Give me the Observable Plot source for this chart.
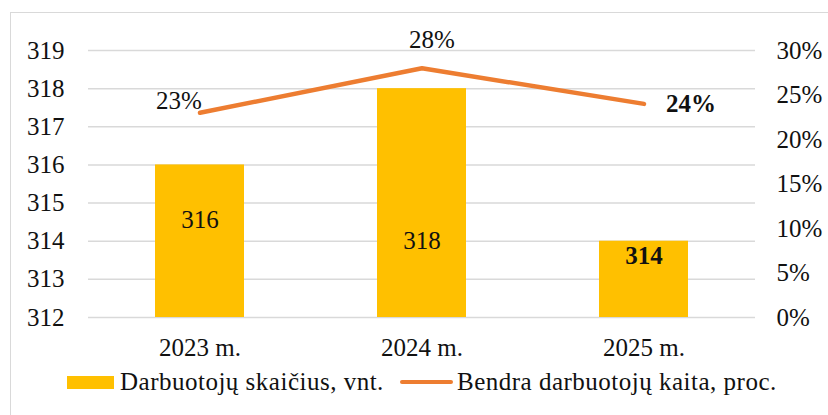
<!DOCTYPE html>
<html>
<head>
<meta charset="utf-8">
<script src="https://cdn.jsdelivr.net/npm/d3@7"></script>
<script src="https://cdn.jsdelivr.net/npm/@observablehq/plot@0.6"></script>
<style>
  html, body { margin: 0; padding: 0; background: #fff; }
  body { width: 828px; height: 415px; overflow: hidden; position: relative; color: #111; }
  body, body * { font-family: 'Liberation Serif', serif !important; }
  #frame { position: absolute; left: 10px; top: 12px; width: 830px; height: 440px; border: 1.5px solid #d9d9d9; box-sizing: border-box; pointer-events: none; }
  #chart svg { display: block; overflow: visible; }
  #legend { position: relative; height: 50px; font-size: 25px; letter-spacing: 0.5px; }
  .item { position: absolute; top: 3px; display: flex; align-items: center; white-space: nowrap; }
  .sw-bar { width: 47px; height: 13px; background: #FFC000; margin-right: 6px; }
  .sw-line { width: 53px; height: 4px; background: #ED7D31; border-radius: 2px; margin-right: 4px; }
</style>
</head>
<body>
<div id="chart"></div>
<div id="legend">
  <div class="item" style="left:67px"><span class="sw-bar"></span><span>Darbuotojų skaičius, vnt.</span></div>
  <div class="item" style="left:400px"><span class="sw-line"></span><span>Bendra darbuotojų kaita, proc.</span></div>
</div>
<div id="frame"></div>
<script>
const years = ["2023 m.", "2024 m.", "2025 m."];
const employees = [316, 318, 314];
const changePct = [23, 28, 24];
const leftTicks = [312, 313, 314, 315, 316, 317, 318, 319];
const rightTicks = [0, 5, 10, 15, 20, 25, 30];

const yMin = 312, yMax = 319, pMax = 30;
const toLeft = p => yMin + p * (yMax - yMin) / pMax;
const data = years.map((year, i) => ({year, employees: employees[i], pct: changePct[i], i}));

const FS = 25;
const FF = "Liberation Serif";
const bold = i => i === 2 ? "bold" : "normal";

function barLabel(i, dy) {
  return Plot.text(data.filter(d => d.i === i), {
    x: "year", y: "employees", text: d => String(d.employees),
    dy, fontSize: FS, fontFamily: FF, fontWeight: bold(i), fill: "#111"
  });
}
function lineLabel(i, dx, dy, anchor) {
  return Plot.text(data.filter(d => d.i === i), {
    x: "year", y: d => toLeft(d.pct), text: d => d.pct + "%",
    dx, dy, textAnchor: anchor, fontSize: FS, fontFamily: FF, fontWeight: bold(i), fill: "#111"
  });
}

const chart = Plot.plot({
  width: 828,
  height: 365,
  marginLeft: 88,
  marginRight: 73,
  marginTop: 50,
  marginBottom: 48,
  style: {fontFamily: FF, fontSize: FS + "px", color: "#111", background: "transparent", overflow: "visible"},
  x: {type: "band", domain: years, paddingInner: 0.6, paddingOuter: 0.3},
  y: {domain: [yMin, yMax]},
  marks: [
    Plot.ruleY(leftTicks, {stroke: "#d9d9d9", strokeWidth: 1.5}),
    Plot.axisY({ticks: leftTicks, tickFormat: d => String(d), tickSize: 0, tickPadding: 24, fontSize: FS, fontFamily: FF, label: null, anchor: "left"}),
    Plot.axisY({ticks: rightTicks.map(toLeft), tickFormat: v => Math.round((v - yMin) * pMax / (yMax - yMin)) + "%",
      tickSize: 0, tickPadding: 21, fontSize: FS, fontFamily: FF, label: null, anchor: "right", textAnchor: "start"}),
    Plot.axisX({tickSize: 0, tickPadding: 21, fontSize: FS, fontFamily: FF, label: null}),
    Plot.barY(data, {x: "year", y1: () => yMin, y2: "employees", fill: "#FFC000"}),
    Plot.lineY(data, {x: "year", y: d => toLeft(d.pct), stroke: "#ED7D31", strokeWidth: 4.5, strokeLinecap: "round", strokeLinejoin: "round"}),
    barLabel(0, 55), barLabel(1, 152), barLabel(2, 15),
    lineLabel(0, -21, -12, "middle"),
    lineLabel(1, 10, -28, "middle"),
    lineLabel(2, 47, 0, "middle")
  ]
});
document.getElementById("chart").appendChild(chart);
</script>
</body>
</html>
